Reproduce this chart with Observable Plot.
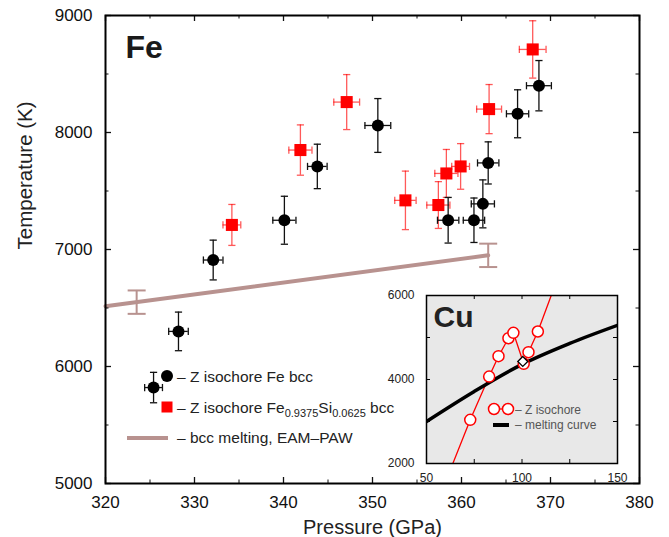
<!DOCTYPE html>
<html>
<head>
<meta charset="utf-8">
<script src="https://cdn.jsdelivr.net/npm/d3@7"></script>
<script src="https://cdn.jsdelivr.net/npm/@observablehq/plot@0.6"></script>
<style>
  body { margin: 0; background: #fff; }
  #wrap { position: relative; width: 669px; height: 537px; background: #fff; }
  #wrap svg { position: absolute; }
</style>
</head>
<body>
<div id="wrap"></div>
<script>
// ---------- Main panel data (Fe) ----------
const feP  = [325.4, 328.2, 332.1, 340.1, 343.8, 350.6, 358.5, 361.4, 362.4, 363.0, 366.3, 368.7];
const feT  = [5820, 6300, 6910, 7250, 7710, 8060, 7250, 7250, 7390, 7740, 8160, 8400];
const feEP = [1.0, 1.1, 1.1, 1.3, 1.1, 1.45, 1.2, 1.2, 1.3, 1.2, 1.25, 1.4];
const feET = [130, 165, 170, 205, 190, 230, 195, 190, 205, 180, 205, 215];

const fesiP  = [334.2, 341.9, 347.1, 353.7, 357.4, 358.3, 359.9, 363.1, 368.0];
const fesiT  = [7210, 7850, 8260, 7420, 7380, 7650, 7710, 8200, 8710];
const fesiEP = [1.0, 1.3, 1.45, 1.2, 1.3, 1.3, 1.0, 1.4, 1.5];
const fesiET = [175, 215, 235, 250, 200, 205, 195, 210, 245];

const meltP = [320, 363];
const meltT = [6515, 6950];
const meltErrP  = [323.5, 363];
const meltErrT  = [6550, 6950];
const meltErrDT = [100, 100];

const xTicks = [320, 330, 340, 350, 360, 370, 380];
const xMinorTicks = [325, 335, 345, 355, 365, 375];
const yTicks = [5000, 6000, 7000, 8000, 9000];
const yMinorTicks = [5500, 6500, 7500, 8500];

const legendLabels = ["– Z isochore Fe bcc", "– Z isochore Fe", "0.9375", "Si", "0.0625", " bcc", "– bcc melting, EAM–PAW"];

// ---------- Inset data (Cu) ----------
const cuIsoP = [72.9, 82.8, 87.7, 92.9, 95.5, 100.9, 103.4, 108.3];
const cuIsoT = [3040, 4070, 4555, 4983, 5112, 4374, 4650, 5143];
const cuIsoEndP = [63.8, 115.3];
const cuIsoEndT = [2000, 6000];
const cuMeltP = [50, 75, 100, 125, 150];
const cuMeltT = [3000, 3715, 4360, 4860, 5290];
const cuCrossP = [100.4];
const cuCrossT = [4430];
const cuXTicks = [50, 100, 150];
const cuXMinor = [50, 75, 100, 125, 150];
const cuYTicks = [2000, 4000, 6000];
const cuYMinor = [2000, 3000, 4000, 5000, 6000];
const cuLegendLabels = ["– Z isochore", "– melting curve"];

// ---------- build tables ----------
const fe = feP.map((p, i) => ({P: p, T: feT[i], eP: feEP[i], eT: feET[i]}));
const fesi = fesiP.map((p, i) => ({P: p, T: fesiT[i], eP: fesiEP[i], eT: fesiET[i]}));
const melt = meltP.map((p, i) => ({P: p, T: meltT[i]}));
const meltErr = meltErrP.map((p, i) => ({P: p, T: meltErrT[i], eT: meltErrDT[i]}));

const cuIso = cuIsoP.map((p, i) => ({P: p, T: cuIsoT[i]}));
const cuIsoLine = [{P: cuIsoEndP[0], T: cuIsoEndT[0]}, ...cuIso, {P: cuIsoEndP[1], T: cuIsoEndT[1]}];
const cuMelt = cuMeltP.map((p, i) => ({P: p, T: cuMeltT[i]}));
const cuCross = cuCrossP.map((p, i) => ({P: p, T: cuCrossT[i]}));

// cap symbols for error bars
const capH = {draw(ctx, size) { const r = Math.sqrt(size / Math.PI); ctx.moveTo(-r, 0); ctx.lineTo(r, 0); }};
const capV = {draw(ctx, size) { const r = Math.sqrt(size / Math.PI); ctx.moveTo(0, -r); ctx.lineTo(0, r); }};

function errorBars(data, color, opacity, sw) {
  const s = {stroke: color, strokeOpacity: opacity, strokeWidth: sw};
  return [
    Plot.ruleX(data, {x: "P", y1: d => d.T - d.eT, y2: d => d.T + d.eT, ...s}),
    Plot.ruleY(data, {y: "T", x1: d => d.P - d.eP, x2: d => d.P + d.eP, ...s}),
    Plot.dot(data, {x: "P", y: d => d.T + d.eT, symbol: capH, r: 3.6, fill: "none", ...s}),
    Plot.dot(data, {x: "P", y: d => d.T - d.eT, symbol: capH, r: 3.6, fill: "none", ...s}),
    Plot.dot(data, {x: d => d.P + d.eP, y: "T", symbol: capV, r: 3.6, fill: "none", ...s}),
    Plot.dot(data, {x: d => d.P - d.eP, y: "T", symbol: capV, r: 3.6, fill: "none", ...s})
  ];
}

const W = 669, H = 537;
const mL = 105, mR = 30, mT = 15, mB = 54;
const innerH = H - mT - mB, innerW = W - mL - mR;
const fmt = d => String(d);

function mainLegend() {
  const g = d3.create("svg:g")
    .attr("font-family", "'Liberation Sans', Arial, sans-serif")
    .attr("text-anchor", "start")
    .attr("fill", "#222");
  g.append("circle").attr("cx", 167).attr("cy", 376).attr("r", 6).attr("fill", "black");
  g.append("text").attr("x", 177).attr("y", 382).attr("font-size", 15.5).text(legendLabels[0]);
  g.append("rect").attr("x", 161.5).attr("y", 401.5).attr("width", 11).attr("height", 11).attr("fill", "red");
  const t = g.append("text").attr("x", 177).attr("y", 413).attr("font-size", 15.5);
  t.append("tspan").text(legendLabels[1]);
  t.append("tspan").attr("font-size", 11).attr("dy", 4).text(legendLabels[2]);
  t.append("tspan").attr("dy", -4).text(legendLabels[3]);
  t.append("tspan").attr("font-size", 11).attr("dy", 4).text(legendLabels[4]);
  t.append("tspan").attr("dy", -4).text(legendLabels[5]);
  g.append("line").attr("x1", 127).attr("x2", 168).attr("y1", 438).attr("y2", 438)
    .attr("stroke", "#b8928f").attr("stroke-width", 4);
  g.append("text").attr("x", 177).attr("y", 443).attr("font-size", 15.5).text(legendLabels[6]);
  return g.node();
}

const meltColor = "#b8928f";

const main = Plot.plot({
  width: W, height: H,
  marginLeft: mL, marginRight: mR, marginTop: mT, marginBottom: mB,
  style: {fontFamily: "'Liberation Sans', Arial, sans-serif", fontSize: "17px", background: "white", color: "#111"},
  x: {domain: [320, 380], ticks: xTicks, tickSize: 0, tickPadding: 12, tickFormat: fmt, label: null},
  y: {domain: [5000, 9000], ticks: yTicks, tickSize: 0, tickPadding: 13, tickFormat: fmt, label: null},
  marks: [
    // melting line
    Plot.line(melt, {x: "P", y: "T", stroke: meltColor, strokeWidth: 4}),
    Plot.ruleX(meltErr, {x: "P", y1: d => d.T - d.eT, y2: d => d.T + d.eT, stroke: meltColor, strokeWidth: 2}),
    Plot.dot(meltErr, {x: "P", y: d => d.T + d.eT, symbol: capH, r: 9, fill: "none", stroke: meltColor, strokeWidth: 2}),
    Plot.dot(meltErr, {x: "P", y: d => d.T - d.eT, symbol: capH, r: 9, fill: "none", stroke: meltColor, strokeWidth: 2}),
    // Fe-Si squares
    ...errorBars(fesi, "#ff0000", 0.65, 1.3),
    Plot.dot(fesi, {x: "P", y: "T", symbol: "square", r: 6.8, fill: "#ff0000", stroke: "none"}),
    // Fe circles
    ...errorBars(fe, "#111", 1, 1.3),
    Plot.dot(fe, {x: "P", y: "T", r: 6, fill: "black", stroke: "none"}),
    // ticks (inward, mirrored)
    Plot.tickX(xTicks, {x: d => d, insetTop: innerH - 6, strokeWidth: 1.3}),
    Plot.tickX(xTicks, {x: d => d, insetBottom: innerH - 6, strokeWidth: 1.3}),
    Plot.tickX(xMinorTicks, {x: d => d, insetTop: innerH - 3.5, strokeWidth: 1}),
    Plot.tickX(xMinorTicks, {x: d => d, insetBottom: innerH - 3.5, strokeWidth: 1}),
    Plot.tickY(yTicks, {y: d => d, insetRight: innerW - 6, strokeWidth: 1.3}),
    Plot.tickY(yTicks, {y: d => d, insetLeft: innerW - 6, strokeWidth: 1.3}),
    Plot.tickY(yMinorTicks, {y: d => d, insetRight: innerW - 3.5, strokeWidth: 1}),
    Plot.tickY(yMinorTicks, {y: d => d, insetLeft: innerW - 3.5, strokeWidth: 1}),
    Plot.frame({stroke: "black", strokeWidth: 2}),
    // labels
    Plot.text(["Fe"], {frameAnchor: "top-left", dx: 20, dy: 20, lineAnchor: "top", textAnchor: "start", fontSize: 32, fontWeight: "bold", fill: "#1a1a1a"}),
    Plot.text(["Pressure (GPa)"], {frameAnchor: "bottom", dy: 50, lineAnchor: "bottom", fontSize: 20, fill: "#222"}),
    Plot.text(["Temperature (K)"], {frameAnchor: "left", dx: -80, rotate: -90, fontSize: 20.5, fill: "#222"}),
    mainLegend
  ]
});
main.style.left = "0px";
main.style.top = "0px";
document.getElementById("wrap").appendChild(main);

// ---------- Inset ----------
const iW = 250, iH = 210, iL = 46, iT = 12, iR = 13, iB = 30;
const iInnerW = iW - iL - iR, iInnerH = iH - iT - iB;

function insetLegend() {
  const g = d3.create("svg:g")
    .attr("font-family", "'Liberation Sans', Arial, sans-serif")
    .attr("text-anchor", "start");
  g.append("line").attr("x1", 114).attr("x2", 128).attr("y1", 126).attr("y2", 126).attr("stroke", "red").attr("stroke-width", 1.3);
  g.append("circle").attr("cx", 114).attr("cy", 126).attr("r", 5.5).attr("fill", "white").attr("stroke", "red").attr("stroke-width", 1.5);
  g.append("circle").attr("cx", 128).attr("cy", 126).attr("r", 5.5).attr("fill", "white").attr("stroke", "red").attr("stroke-width", 1.5);
  g.append("text").attr("x", 135).attr("y", 131).attr("font-size", 12).attr("fill", "#555").text(cuLegendLabels[0]);
  g.append("line").attr("x1", 113).attr("x2", 129).attr("y1", 142).attr("y2", 142).attr("stroke", "black").attr("stroke-width", 4);
  g.append("text").attr("x", 135).attr("y", 146).attr("font-size", 12).attr("fill", "#555").text(cuLegendLabels[1]);
  return g.node();
}

const inset = Plot.plot({
  width: iW, height: iH,
  marginLeft: iL, marginRight: iR, marginTop: iT, marginBottom: iB,
  style: {fontFamily: "'Liberation Sans', Arial, sans-serif", fontSize: "12px", background: "transparent", color: "#222", overflow: "visible"},
  x: {domain: [50, 150], ticks: cuXTicks, tickSize: 0, tickPadding: 10, tickFormat: fmt, label: null},
  y: {domain: [2000, 6000], ticks: cuYTicks, tickSize: 0, tickPadding: 12, tickFormat: fmt, label: null},
  marks: [
    Plot.frame({fill: "#e8e8e8", stroke: "none"}),
    Plot.line(cuIsoLine, {x: "P", y: "T", stroke: "red", strokeWidth: 1.3, clip: true}),
    Plot.line(cuMelt, {x: "P", y: "T", stroke: "black", strokeWidth: 3.5, curve: "monotone-x", clip: true}),
    Plot.dot(cuIso, {x: "P", y: "T", r: 5.5, fill: "white", stroke: "red", strokeWidth: 1.5}),
    Plot.dot(cuCross, {x: "P", y: "T", symbol: "diamond2", r: 4.5, fill: "white", stroke: "black", strokeWidth: 1.3}),
    Plot.tickX(cuXMinor, {x: d => d, insetTop: iInnerH - 4, stroke: "black"}),
    Plot.tickX(cuXMinor, {x: d => d, insetBottom: iInnerH - 4, stroke: "black"}),
    Plot.tickY(cuYMinor, {y: d => d, insetRight: iInnerW - 4, stroke: "black"}),
    Plot.tickY(cuYMinor, {y: d => d, insetLeft: iInnerW - 4, stroke: "black"}),
    Plot.frame({stroke: "black", strokeWidth: 1.5}),
    Plot.text(["Cu"], {frameAnchor: "top-left", dx: 7, dy: 10, lineAnchor: "top", textAnchor: "start", fontSize: 30, fontWeight: "bold", fill: "#222"}),
    insetLegend
  ]
});
inset.style.left = "380px";
inset.style.top = "283px";
document.getElementById("wrap").appendChild(inset);
</script>
</body>
</html>
